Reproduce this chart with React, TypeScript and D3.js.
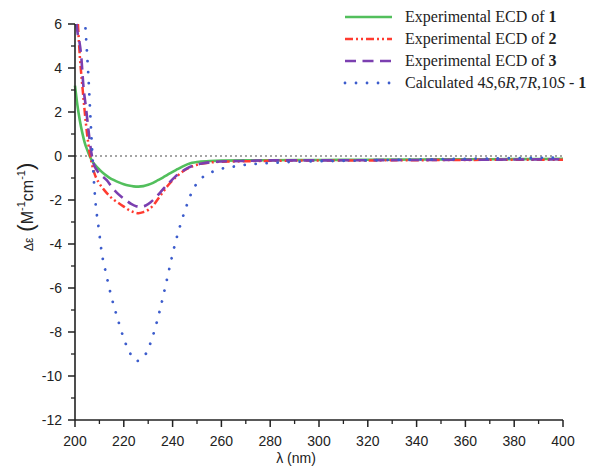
import React from "react";
import * as d3 from "d3";

const W = 592;
const H = 470;

const exp1L = [200, 201, 202, 203, 204, 205, 206, 207, 208, 210, 212, 214, 216, 218, 220, 222, 224, 226, 228, 230, 232, 234, 236, 238, 240, 242, 244, 246, 248, 250, 255, 260, 270, 280, 300, 320, 340, 360, 380, 400];
const exp1V = [3.2, 2.3, 1.6, 1.05, 0.6, 0.28, 0.0, -0.22, -0.38, -0.62, -0.82, -0.98, -1.1, -1.2, -1.28, -1.34, -1.38, -1.39, -1.37, -1.31, -1.22, -1.1, -0.98, -0.85, -0.72, -0.6, -0.48, -0.38, -0.31, -0.27, -0.23, -0.21, -0.2, -0.19, -0.18, -0.17, -0.16, -0.15, -0.14, -0.13];

const exp2L = [201.2, 202, 203, 204, 205, 206, 207, 208, 210, 212, 214, 216, 218, 220, 222, 224, 226, 228, 230, 232, 234, 236, 238, 240, 242, 244, 246, 248, 250, 255, 260, 270, 280, 300, 320, 340, 360, 380, 400];
const exp2V = [6.0, 4.5, 3.2, 2.0, 0.95, 0.15, -0.4, -0.8, -1.25, -1.55, -1.8, -2.0, -2.15, -2.3, -2.45, -2.55, -2.6, -2.55, -2.45, -2.25, -1.95, -1.65, -1.35, -1.1, -0.9, -0.72, -0.58, -0.47, -0.4, -0.3, -0.26, -0.24, -0.22, -0.2, -0.2, -0.19, -0.18, -0.17, -0.17];

const exp3L = [200.6, 201.2, 201.8, 202.5, 203.5, 204.5, 205.5, 206.5, 207.5, 209, 211, 213, 215, 217, 219, 221, 223, 225, 227, 229, 231, 233, 235, 237, 239, 241, 243, 245, 247, 249, 252, 256, 260, 270, 280, 300, 320, 340, 360, 380, 400];
const exp3V = [6.0, 5.5, 5.2, 4.6, 3.1, 2.2, 1.2, 0.3, -0.3, -0.65, -0.9, -1.1, -1.4, -1.65, -1.85, -2.02, -2.18, -2.28, -2.3, -2.25, -2.1, -1.9, -1.65, -1.4, -1.17, -0.95, -0.77, -0.62, -0.5, -0.42, -0.34, -0.28, -0.25, -0.22, -0.2, -0.2, -0.19, -0.18, -0.17, -0.16, -0.15];

const calcL = [204.3, 205.5, 206.8, 208.2, 209.8, 210.9, 212.7, 214.8, 217.3, 220.2, 222.5, 225.3, 227, 229, 232.4, 234.8, 236.9, 238.9, 241, 243, 245, 248.5, 252, 256.7, 265, 283, 300, 320, 340, 360, 380, 400];
const calcV = [5.8, 3.6, 0.73, -1.85, -3.36, -4.35, -5.33, -6.35, -7.33, -8.36, -8.95, -9.32, -9.25, -9.0, -8.0, -7.0, -6.0, -5.0, -4.0, -3.2, -2.5, -1.5, -1.0, -0.7, -0.48, -0.3, -0.24, -0.2, -0.16, -0.13, -0.1, -0.07];

const xMajor = [200, 220, 240, 260, 280, 300, 320, 340, 360, 380, 400];
const yMajor = [6, 4, 2, 0, -2, -4, -6, -8, -10, -12];

const series = [
  { L: exp1L, V: exp1V, color: "#52bf5c", dash: "none", width: 2.6, cap: "butt", label: "exp1" },
  { L: exp2L, V: exp2V, color: "#ff3b30", dash: "8,3,2,3,2,3", width: 2.5, cap: "butt", label: "exp2" },
  { L: exp3L, V: exp3V, color: "#7b3fb0", dash: "11,6.5", width: 2.6, cap: "butt", label: "exp3" },
  { L: calcL, V: calcV, color: "#3c5ccc", dash: "0.01,11", width: 2.8, cap: "round", label: "calc" },
];

export default function App() {
  const x = d3.scaleLinear().domain([200, 400]).range([75, 563]);
  const y = d3.scaleLinear().domain([-12, 6]).range([420, 24]);
  const line = d3
    .line<[number, number]>()
    .x((d) => x(d[0]))
    .y((d) => y(d[1]))
    .curve(d3.curveMonotoneX);

  const xMinor = d3.range(210, 400, 20);
  const yMinor = d3.range(-11, 6, 2);
  const font = "Liberation Sans, Arial, sans-serif";
  const serif = "Liberation Serif, Times New Roman, serif";

  const legendRows = [0, 1, 2, 3];
  const legendY = (i: number) => y(6) - 7 + i * 22;

  return (
    <svg width={W} height={H} style={{ position: "absolute", left: 0, top: 0, background: "#fff" }}>
      {/* zero line */}
      <line x1={x(200)} x2={x(400)} y1={y(0)} y2={y(0)} stroke="#888" strokeWidth={1.3} strokeDasharray="2,3" />
      {/* series */}
      {series.map((s, i) => (
        <path
          key={i}
          d={line(s.L.map((l, j) => [l, s.V[j]] as [number, number])) || ""}
          fill="none"
          stroke={s.color}
          strokeWidth={s.width}
          strokeDasharray={s.dash}
          strokeLinecap={s.cap as any}
        />
      ))}
      {/* axes */}
      <line x1={x(200)} x2={x(200)} y1={y(6)} y2={y(-12)} stroke="#222" strokeWidth={1.6} />
      <line x1={x(200)} x2={x(400)} y1={y(-12)} y2={y(-12)} stroke="#222" strokeWidth={1.6} />
      {xMajor.map((v) => (
        <g key={"xm" + v}>
          <line x1={x(v)} x2={x(v)} y1={y(-12)} y2={y(-12) + 7} stroke="#222" strokeWidth={1.5} />
          <text x={x(v)} y={446} textAnchor="middle" fontFamily={font} fontSize={14} fill="#222">
            {v}
          </text>
        </g>
      ))}
      {xMinor.map((v) => (
        <line key={"xn" + v} x1={x(v)} x2={x(v)} y1={y(-12)} y2={y(-12) + 4} stroke="#222" strokeWidth={1.3} />
      ))}
      {yMajor.map((v) => (
        <g key={"ym" + v}>
          <line x1={x(200) - 7} x2={x(200)} y1={y(v)} y2={y(v)} stroke="#222" strokeWidth={1.5} />
          <text x={62} y={y(v) + 5} textAnchor="end" fontFamily={font} fontSize={14} fill="#222">
            {v}
          </text>
        </g>
      ))}
      {yMinor.map((v) => (
        <line key={"yn" + v} x1={x(200) - 4} x2={x(200)} y1={y(v)} y2={y(v)} stroke="#222" strokeWidth={1.3} />
      ))}
      {/* x label */}
      <text x={296} y={463} textAnchor="middle" fontFamily={font} fontSize={14} fill="#222">
        λ (nm)
      </text>
      {/* y label */}
      <text transform="translate(33,251) rotate(-90)" fontFamily={font} fill="#222">
        <tspan fontSize={12}>Δε</tspan>
        <tspan fontSize={22} dx={6} dy={0}>(</tspan>
        <tspan fontSize={16}>M</tspan>
        <tspan fontSize={11} dy={-8}>-1</tspan>
        <tspan fontSize={16} dy={8}>cm</tspan>
        <tspan fontSize={11} dy={-8}>-1</tspan>
        <tspan fontSize={22} dy={8}>)</tspan>
      </text>
      {/* legend */}
      {legendRows.map((i) => {
        const s = series[i];
        const ly = legendY(i);
        return (
          <line
            key={"lg" + i}
            x1={345}
            x2={392}
            y1={ly}
            y2={ly}
            stroke={s.color}
            strokeWidth={s.width}
            strokeDasharray={s.dash}
            strokeLinecap={s.cap as any}
          />
        );
      })}
      <text x={405} y={legendY(0) + 5} fontFamily={serif} fontSize={16} fill="#222">
        Experimental ECD of <tspan fontWeight="bold">1</tspan>
      </text>
      <text x={405} y={legendY(1) + 5} fontFamily={serif} fontSize={16} fill="#222">
        Experimental ECD of <tspan fontWeight="bold">2</tspan>
      </text>
      <text x={405} y={legendY(2) + 5} fontFamily={serif} fontSize={16} fill="#222">
        Experimental ECD of <tspan fontWeight="bold">3</tspan>
      </text>
      <text x={405} y={legendY(3) + 5} fontFamily={serif} fontSize={16} fill="#222">
        Calculated 4<tspan fontStyle="italic">S</tspan>,6<tspan fontStyle="italic">R</tspan>,7
        <tspan fontStyle="italic">R</tspan>,10<tspan fontStyle="italic">S</tspan> - <tspan fontWeight="bold">1</tspan>
      </text>
    </svg>
  );
}
